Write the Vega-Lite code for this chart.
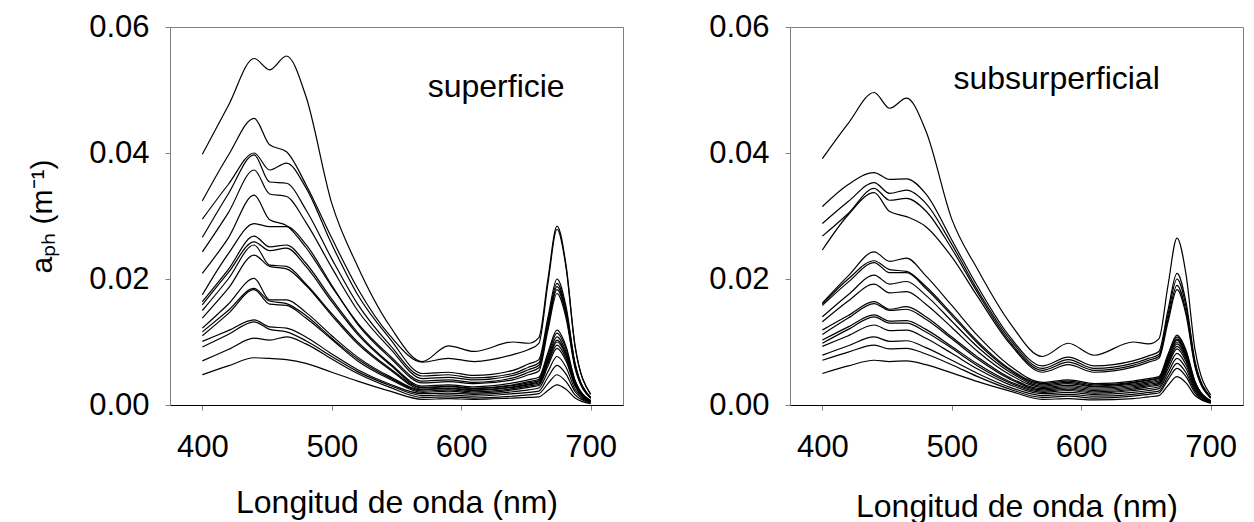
{
"$schema":"https://vega.github.io/schema/vega-lite/v6.json",
"background":"white",
"padding":{"left":26,"top":10,"right":0,"bottom":0},
"spacing":167,
"bounds":"flush",
"config":{
"font":"Liberation Sans",
"view":{"stroke":"#808080","strokeWidth":1},
"axis":{"grid":false,"labelFont":"Liberation Sans","titleFont":"Liberation Sans","labelFontSize":31,"titleFontSize":32,"labelColor":"black","titleColor":"black","titleFontWeight":"normal","tickSize":5,"tickColor":"#808080","domainColor":"#808080","labelFlush":false,"labelOverlap":false},
"axisX":{"domainColor":"black","labelPadding":22,"titleBaseline":"alphabetic"},
"axisY":{"labelPadding":16,"titleFontSize":30}
},
"datasets":{
"sup":[
{"c":1,"w":400,"a":0.0398},{"c":1,"w":420,"a":0.0475},{"c":1,"w":440,"a":0.0550},{"c":1,"w":452,"a":0.0532},{"c":1,"w":465,"a":0.0554},{"c":1,"w":480,"a":0.0490},{"c":1,"w":500,"a":0.0320},{"c":1,"w":520,"a":0.0220},{"c":1,"w":545,"a":0.0125},{"c":1,"w":570,"a":0.0069},{"c":1,"w":590,"a":0.0094},{"c":1,"w":610,"a":0.0085},{"c":1,"w":640,"a":0.0100},{"c":1,"w":652,"a":0.0098},{"c":1,"w":660,"a":0.0107},{"c":1,"w":667,"a":0.0200},{"c":1,"w":674,"a":0.0284},{"c":1,"w":681,"a":0.0222},{"c":1,"w":688,"a":0.0094},{"c":1,"w":700,"a":0.0017},
{"c":2,"w":400,"a":0.0324},{"c":2,"w":420,"a":0.0396},{"c":2,"w":440,"a":0.0455},{"c":2,"w":452,"a":0.0413},{"c":2,"w":465,"a":0.0402},{"c":2,"w":480,"a":0.0350},{"c":2,"w":500,"a":0.0265},{"c":2,"w":520,"a":0.0185},{"c":2,"w":545,"a":0.0110},{"c":2,"w":570,"a":0.0068},{"c":2,"w":590,"a":0.0074},{"c":2,"w":610,"a":0.0069},{"c":2,"w":640,"a":0.0080},{"c":2,"w":652,"a":0.0088},{"c":2,"w":660,"a":0.0098},{"c":2,"w":667,"a":0.0193},{"c":2,"w":674,"a":0.0279},{"c":2,"w":681,"a":0.0218},{"c":2,"w":688,"a":0.0092},{"c":2,"w":700,"a":0.0017},
{"c":3,"w":400,"a":0.0295},{"c":3,"w":420,"a":0.0350},{"c":3,"w":440,"a":0.0400},{"c":3,"w":452,"a":0.0373},{"c":3,"w":465,"a":0.0384},{"c":3,"w":480,"a":0.0345},{"c":3,"w":500,"a":0.0255},{"c":3,"w":520,"a":0.0175},{"c":3,"w":545,"a":0.0105},{"c":3,"w":570,"a":0.0050},{"c":3,"w":590,"a":0.0052},{"c":3,"w":610,"a":0.0047},{"c":3,"w":640,"a":0.0055},{"c":3,"w":652,"a":0.0065},{"c":3,"w":660,"a":0.0072},{"c":3,"w":667,"a":0.0139},{"c":3,"w":674,"a":0.0200},{"c":3,"w":681,"a":0.0156},{"c":3,"w":688,"a":0.0066},{"c":3,"w":700,"a":0.0012},
{"c":4,"w":400,"a":0.0266},{"c":4,"w":420,"a":0.0335},{"c":4,"w":440,"a":0.0397},{"c":4,"w":452,"a":0.0354},{"c":4,"w":465,"a":0.0352},{"c":4,"w":480,"a":0.0310},{"c":4,"w":500,"a":0.0232},{"c":4,"w":520,"a":0.0160},{"c":4,"w":545,"a":0.0095},{"c":4,"w":570,"a":0.0046},{"c":4,"w":590,"a":0.0048},{"c":4,"w":610,"a":0.0043},{"c":4,"w":640,"a":0.0050},{"c":4,"w":652,"a":0.0060},{"c":4,"w":660,"a":0.0067},{"c":4,"w":667,"a":0.0133},{"c":4,"w":674,"a":0.0193},{"c":4,"w":681,"a":0.0151},{"c":4,"w":688,"a":0.0064},{"c":4,"w":700,"a":0.0012},
{"c":5,"w":400,"a":0.0243},{"c":5,"w":420,"a":0.0305},{"c":5,"w":440,"a":0.0373},{"c":5,"w":452,"a":0.0335},{"c":5,"w":465,"a":0.0331},{"c":5,"w":480,"a":0.0290},{"c":5,"w":500,"a":0.0218},{"c":5,"w":520,"a":0.0150},{"c":5,"w":545,"a":0.0090},{"c":5,"w":570,"a":0.0042},{"c":5,"w":590,"a":0.0044},{"c":5,"w":610,"a":0.0040},{"c":5,"w":640,"a":0.0047},{"c":5,"w":652,"a":0.0056},{"c":5,"w":660,"a":0.0063},{"c":5,"w":667,"a":0.0129},{"c":5,"w":674,"a":0.0188},{"c":5,"w":681,"a":0.0147},{"c":5,"w":688,"a":0.0062},{"c":5,"w":700,"a":0.0011},
{"c":6,"w":400,"a":0.0209},{"c":6,"w":420,"a":0.0265},{"c":6,"w":440,"a":0.0333},{"c":6,"w":452,"a":0.0294},{"c":6,"w":465,"a":0.0285},{"c":6,"w":480,"a":0.0250},{"c":6,"w":500,"a":0.0188},{"c":6,"w":520,"a":0.0130},{"c":6,"w":545,"a":0.0078},{"c":6,"w":570,"a":0.0038},{"c":6,"w":590,"a":0.0040},{"c":6,"w":610,"a":0.0036},{"c":6,"w":640,"a":0.0043},{"c":6,"w":652,"a":0.0052},{"c":6,"w":660,"a":0.0059},{"c":6,"w":667,"a":0.0124},{"c":6,"w":674,"a":0.0183},{"c":6,"w":681,"a":0.0143},{"c":6,"w":688,"a":0.0060},{"c":6,"w":700,"a":0.0011},
{"c":7,"w":400,"a":0.0175},{"c":7,"w":420,"a":0.0240},{"c":7,"w":440,"a":0.0288},{"c":7,"w":452,"a":0.0283},{"c":7,"w":465,"a":0.0283},{"c":7,"w":480,"a":0.0255},{"c":7,"w":500,"a":0.0190},{"c":7,"w":520,"a":0.0128},{"c":7,"w":545,"a":0.0075},{"c":7,"w":570,"a":0.0035},{"c":7,"w":590,"a":0.0037},{"c":7,"w":610,"a":0.0034},{"c":7,"w":640,"a":0.0040},{"c":7,"w":652,"a":0.0048},{"c":7,"w":660,"a":0.0054},{"c":7,"w":667,"a":0.0119},{"c":7,"w":674,"a":0.0177},{"c":7,"w":681,"a":0.0138},{"c":7,"w":688,"a":0.0058},{"c":7,"w":700,"a":0.0011},
{"c":8,"w":400,"a":0.0164},{"c":8,"w":420,"a":0.0215},{"c":8,"w":440,"a":0.0268},{"c":8,"w":452,"a":0.0251},{"c":8,"w":465,"a":0.0254},{"c":8,"w":480,"a":0.0225},{"c":8,"w":500,"a":0.0168},{"c":8,"w":520,"a":0.0115},{"c":8,"w":545,"a":0.0066},{"c":8,"w":570,"a":0.0030},{"c":8,"w":590,"a":0.0032},{"c":8,"w":610,"a":0.0029},{"c":8,"w":640,"a":0.0035},{"c":8,"w":652,"a":0.0040},{"c":8,"w":660,"a":0.0044},{"c":8,"w":667,"a":0.0083},{"c":8,"w":674,"a":0.0119},{"c":8,"w":681,"a":0.0093},{"c":8,"w":688,"a":0.0039},{"c":8,"w":700,"a":0.0007},
{"c":9,"w":400,"a":0.0159},{"c":9,"w":420,"a":0.0210},{"c":9,"w":440,"a":0.0259},{"c":9,"w":452,"a":0.0245},{"c":9,"w":465,"a":0.0249},{"c":9,"w":480,"a":0.0220},{"c":9,"w":500,"a":0.0164},{"c":9,"w":520,"a":0.0112},{"c":9,"w":545,"a":0.0064},{"c":9,"w":570,"a":0.0028},{"c":9,"w":590,"a":0.0030},{"c":9,"w":610,"a":0.0027},{"c":9,"w":640,"a":0.0032},{"c":9,"w":652,"a":0.0037},{"c":9,"w":660,"a":0.0041},{"c":9,"w":667,"a":0.0079},{"c":9,"w":674,"a":0.0114},{"c":9,"w":681,"a":0.0089},{"c":9,"w":688,"a":0.0038},{"c":9,"w":700,"a":0.0007},
{"c":10,"w":400,"a":0.0150},{"c":10,"w":420,"a":0.0200},{"c":10,"w":440,"a":0.0254},{"c":10,"w":452,"a":0.0222},{"c":10,"w":465,"a":0.0220},{"c":10,"w":480,"a":0.0192},{"c":10,"w":500,"a":0.0145},{"c":10,"w":520,"a":0.0100},{"c":10,"w":545,"a":0.0058},{"c":10,"w":570,"a":0.0027},{"c":10,"w":590,"a":0.0029},{"c":10,"w":610,"a":0.0026},{"c":10,"w":640,"a":0.0031},{"c":10,"w":652,"a":0.0035},{"c":10,"w":660,"a":0.0039},{"c":10,"w":667,"a":0.0075},{"c":10,"w":674,"a":0.0108},{"c":10,"w":681,"a":0.0084},{"c":10,"w":688,"a":0.0036},{"c":10,"w":700,"a":0.0006},
{"c":11,"w":400,"a":0.0138},{"c":11,"w":420,"a":0.0185},{"c":11,"w":440,"a":0.0238},{"c":11,"w":452,"a":0.0220},{"c":11,"w":465,"a":0.0216},{"c":11,"w":480,"a":0.0190},{"c":11,"w":500,"a":0.0142},{"c":11,"w":520,"a":0.0097},{"c":11,"w":545,"a":0.0056},{"c":11,"w":570,"a":0.0025},{"c":11,"w":590,"a":0.0027},{"c":11,"w":610,"a":0.0024},{"c":11,"w":640,"a":0.0029},{"c":11,"w":652,"a":0.0033},{"c":11,"w":660,"a":0.0037},{"c":11,"w":667,"a":0.0072},{"c":11,"w":674,"a":0.0103},{"c":11,"w":681,"a":0.0080},{"c":11,"w":688,"a":0.0034},{"c":11,"w":700,"a":0.0006},
{"c":12,"w":400,"a":0.0122},{"c":12,"w":420,"a":0.0160},{"c":12,"w":440,"a":0.0201},{"c":12,"w":452,"a":0.0167},{"c":12,"w":465,"a":0.0167},{"c":12,"w":480,"a":0.0147},{"c":12,"w":500,"a":0.0110},{"c":12,"w":520,"a":0.0076},{"c":12,"w":545,"a":0.0045},{"c":12,"w":570,"a":0.0024},{"c":12,"w":590,"a":0.0026},{"c":12,"w":610,"a":0.0023},{"c":12,"w":640,"a":0.0028},{"c":12,"w":652,"a":0.0032},{"c":12,"w":660,"a":0.0035},{"c":12,"w":667,"a":0.0069},{"c":12,"w":674,"a":0.0100},{"c":12,"w":681,"a":0.0078},{"c":12,"w":688,"a":0.0033},{"c":12,"w":700,"a":0.0006},
{"c":13,"w":400,"a":0.0116},{"c":13,"w":420,"a":0.0150},{"c":13,"w":440,"a":0.0185},{"c":13,"w":452,"a":0.0165},{"c":13,"w":465,"a":0.0161},{"c":13,"w":480,"a":0.0142},{"c":13,"w":500,"a":0.0106},{"c":13,"w":520,"a":0.0073},{"c":13,"w":545,"a":0.0043},{"c":13,"w":570,"a":0.0022},{"c":13,"w":590,"a":0.0024},{"c":13,"w":610,"a":0.0021},{"c":13,"w":640,"a":0.0026},{"c":13,"w":652,"a":0.0030},{"c":13,"w":660,"a":0.0033},{"c":13,"w":667,"a":0.0066},{"c":13,"w":674,"a":0.0095},{"c":13,"w":681,"a":0.0074},{"c":13,"w":688,"a":0.0031},{"c":13,"w":700,"a":0.0006},
{"c":14,"w":400,"a":0.0110},{"c":14,"w":420,"a":0.0145},{"c":14,"w":440,"a":0.0183},{"c":14,"w":452,"a":0.0160},{"c":14,"w":465,"a":0.0158},{"c":14,"w":480,"a":0.0138},{"c":14,"w":500,"a":0.0104},{"c":14,"w":520,"a":0.0070},{"c":14,"w":545,"a":0.0041},{"c":14,"w":570,"a":0.0020},{"c":14,"w":590,"a":0.0022},{"c":14,"w":610,"a":0.0019},{"c":14,"w":640,"a":0.0024},{"c":14,"w":652,"a":0.0028},{"c":14,"w":660,"a":0.0031},{"c":14,"w":667,"a":0.0062},{"c":14,"w":674,"a":0.0090},{"c":14,"w":681,"a":0.0070},{"c":14,"w":688,"a":0.0030},{"c":14,"w":700,"a":0.0005},
{"c":15,"w":400,"a":0.0101},{"c":15,"w":420,"a":0.0118},{"c":15,"w":440,"a":0.0135},{"c":15,"w":452,"a":0.0124},{"c":15,"w":465,"a":0.0122},{"c":15,"w":480,"a":0.0108},{"c":15,"w":500,"a":0.0081},{"c":15,"w":520,"a":0.0056},{"c":15,"w":545,"a":0.0033},{"c":15,"w":570,"a":0.0018},{"c":15,"w":590,"a":0.0019},{"c":15,"w":610,"a":0.0017},{"c":15,"w":640,"a":0.0021},{"c":15,"w":652,"a":0.0024},{"c":15,"w":660,"a":0.0027},{"c":15,"w":667,"a":0.0053},{"c":15,"w":674,"a":0.0077},{"c":15,"w":681,"a":0.0060},{"c":15,"w":688,"a":0.0025},{"c":15,"w":700,"a":0.0005},
{"c":16,"w":400,"a":0.0092},{"c":16,"w":420,"a":0.0112},{"c":16,"w":440,"a":0.0132},{"c":16,"w":452,"a":0.0120},{"c":16,"w":465,"a":0.0116},{"c":16,"w":480,"a":0.0102},{"c":16,"w":500,"a":0.0077},{"c":16,"w":520,"a":0.0053},{"c":16,"w":545,"a":0.0031},{"c":16,"w":570,"a":0.0015},{"c":16,"w":590,"a":0.0016},{"c":16,"w":610,"a":0.0014},{"c":16,"w":640,"a":0.0018},{"c":16,"w":652,"a":0.0020},{"c":16,"w":660,"a":0.0022},{"c":16,"w":667,"a":0.0044},{"c":16,"w":674,"a":0.0063},{"c":16,"w":681,"a":0.0049},{"c":16,"w":688,"a":0.0021},{"c":16,"w":700,"a":0.0004},
{"c":17,"w":400,"a":0.0070},{"c":17,"w":420,"a":0.0088},{"c":17,"w":440,"a":0.0106},{"c":17,"w":452,"a":0.0103},{"c":17,"w":465,"a":0.0108},{"c":17,"w":480,"a":0.0097},{"c":17,"w":500,"a":0.0073},{"c":17,"w":520,"a":0.0050},{"c":17,"w":545,"a":0.0028},{"c":17,"w":570,"a":0.0012},{"c":17,"w":590,"a":0.0013},{"c":17,"w":610,"a":0.0011},{"c":17,"w":640,"a":0.0014},{"c":17,"w":652,"a":0.0016},{"c":17,"w":660,"a":0.0018},{"c":17,"w":667,"a":0.0034},{"c":17,"w":674,"a":0.0048},{"c":17,"w":681,"a":0.0037},{"c":17,"w":688,"a":0.0016},{"c":17,"w":700,"a":0.0003},
{"c":18,"w":400,"a":0.0048},{"c":18,"w":420,"a":0.0062},{"c":18,"w":440,"a":0.0075},{"c":18,"w":452,"a":0.0074},{"c":18,"w":465,"a":0.0072},{"c":18,"w":480,"a":0.0066},{"c":18,"w":500,"a":0.0052},{"c":18,"w":520,"a":0.0038},{"c":18,"w":545,"a":0.0022},{"c":18,"w":570,"a":0.0009},{"c":18,"w":590,"a":0.0010},{"c":18,"w":610,"a":0.0009},{"c":18,"w":640,"a":0.0011},{"c":18,"w":652,"a":0.0012},{"c":18,"w":660,"a":0.0013},{"c":18,"w":667,"a":0.0023},{"c":18,"w":674,"a":0.0032},{"c":18,"w":681,"a":0.0025},{"c":18,"w":688,"a":0.0011},{"c":18,"w":700,"a":0.0002}
],
"sub":[
{"c":1,"w":400,"a":0.0391},{"c":1,"w":420,"a":0.0447},{"c":1,"w":440,"a":0.0496},{"c":1,"w":452,"a":0.0471},{"c":1,"w":465,"a":0.0487},{"c":1,"w":480,"a":0.0435},{"c":1,"w":500,"a":0.0295},{"c":1,"w":520,"a":0.0215},{"c":1,"w":545,"a":0.0130},{"c":1,"w":570,"a":0.0077},{"c":1,"w":590,"a":0.0098},{"c":1,"w":610,"a":0.0079},{"c":1,"w":640,"a":0.0100},{"c":1,"w":652,"a":0.0097},{"c":1,"w":660,"a":0.0105},{"c":1,"w":667,"a":0.0189},{"c":1,"w":674,"a":0.0265},{"c":1,"w":681,"a":0.0207},{"c":1,"w":688,"a":0.0087},{"c":1,"w":700,"a":0.0016},
{"c":2,"w":400,"a":0.0315},{"c":2,"w":420,"a":0.0350},{"c":2,"w":440,"a":0.0369},{"c":2,"w":452,"a":0.0358},{"c":2,"w":465,"a":0.0359},{"c":2,"w":480,"a":0.0335},{"c":2,"w":500,"a":0.0262},{"c":2,"w":520,"a":0.0188},{"c":2,"w":545,"a":0.0108},{"c":2,"w":570,"a":0.0062},{"c":2,"w":590,"a":0.0076},{"c":2,"w":610,"a":0.0062},{"c":2,"w":640,"a":0.0070},{"c":2,"w":652,"a":0.0078},{"c":2,"w":660,"a":0.0085},{"c":2,"w":667,"a":0.0150},{"c":2,"w":674,"a":0.0209},{"c":2,"w":681,"a":0.0163},{"c":2,"w":688,"a":0.0069},{"c":2,"w":700,"a":0.0013},
{"c":3,"w":400,"a":0.0288},{"c":3,"w":420,"a":0.0323},{"c":3,"w":440,"a":0.0353},{"c":3,"w":452,"a":0.0336},{"c":3,"w":465,"a":0.0341},{"c":3,"w":480,"a":0.0320},{"c":3,"w":500,"a":0.0255},{"c":3,"w":520,"a":0.0182},{"c":3,"w":545,"a":0.0104},{"c":3,"w":570,"a":0.0058},{"c":3,"w":590,"a":0.0072},{"c":3,"w":610,"a":0.0058},{"c":3,"w":640,"a":0.0066},{"c":3,"w":652,"a":0.0074},{"c":3,"w":660,"a":0.0080},{"c":3,"w":667,"a":0.0143},{"c":3,"w":674,"a":0.0200},{"c":3,"w":681,"a":0.0156},{"c":3,"w":688,"a":0.0066},{"c":3,"w":700,"a":0.0012},
{"c":4,"w":400,"a":0.0268},{"c":4,"w":420,"a":0.0304},{"c":4,"w":440,"a":0.0344},{"c":4,"w":452,"a":0.0325},{"c":4,"w":465,"a":0.0328},{"c":4,"w":480,"a":0.0308},{"c":4,"w":500,"a":0.0248},{"c":4,"w":520,"a":0.0178},{"c":4,"w":545,"a":0.0100},{"c":4,"w":570,"a":0.0055},{"c":4,"w":590,"a":0.0068},{"c":4,"w":610,"a":0.0055},{"c":4,"w":640,"a":0.0063},{"c":4,"w":652,"a":0.0071},{"c":4,"w":660,"a":0.0077},{"c":4,"w":667,"a":0.0136},{"c":4,"w":674,"a":0.0190},{"c":4,"w":681,"a":0.0148},{"c":4,"w":688,"a":0.0063},{"c":4,"w":700,"a":0.0011},
{"c":5,"w":400,"a":0.0246},{"c":5,"w":420,"a":0.0302},{"c":5,"w":440,"a":0.0337},{"c":5,"w":452,"a":0.0307},{"c":5,"w":465,"a":0.0299},{"c":5,"w":480,"a":0.0283},{"c":5,"w":500,"a":0.0235},{"c":5,"w":520,"a":0.0172},{"c":5,"w":545,"a":0.0097},{"c":5,"w":570,"a":0.0052},{"c":5,"w":590,"a":0.0064},{"c":5,"w":610,"a":0.0052},{"c":5,"w":640,"a":0.0060},{"c":5,"w":652,"a":0.0068},{"c":5,"w":660,"a":0.0074},{"c":5,"w":667,"a":0.0131},{"c":5,"w":674,"a":0.0183},{"c":5,"w":681,"a":0.0143},{"c":5,"w":688,"a":0.0060},{"c":5,"w":700,"a":0.0011},
{"c":6,"w":400,"a":0.0162},{"c":6,"w":420,"a":0.0205},{"c":6,"w":440,"a":0.0243},{"c":6,"w":452,"a":0.0228},{"c":6,"w":465,"a":0.0233},{"c":6,"w":480,"a":0.0205},{"c":6,"w":500,"a":0.0158},{"c":6,"w":520,"a":0.0110},{"c":6,"w":545,"a":0.0062},{"c":6,"w":570,"a":0.0036},{"c":6,"w":590,"a":0.0040},{"c":6,"w":610,"a":0.0034},{"c":6,"w":640,"a":0.0038},{"c":6,"w":652,"a":0.0042},{"c":6,"w":660,"a":0.0045},{"c":6,"w":667,"a":0.0080},{"c":6,"w":674,"a":0.0111},{"c":6,"w":681,"a":0.0087},{"c":6,"w":688,"a":0.0037},{"c":6,"w":700,"a":0.0007},
{"c":7,"w":400,"a":0.0160},{"c":7,"w":420,"a":0.0200},{"c":7,"w":440,"a":0.0229},{"c":7,"w":452,"a":0.0215},{"c":7,"w":465,"a":0.0212},{"c":7,"w":480,"a":0.0188},{"c":7,"w":500,"a":0.0145},{"c":7,"w":520,"a":0.0101},{"c":7,"w":545,"a":0.0057},{"c":7,"w":570,"a":0.0034},{"c":7,"w":590,"a":0.0038},{"c":7,"w":610,"a":0.0032},{"c":7,"w":640,"a":0.0036},{"c":7,"w":652,"a":0.0040},{"c":7,"w":660,"a":0.0043},{"c":7,"w":667,"a":0.0077},{"c":7,"w":674,"a":0.0108},{"c":7,"w":681,"a":0.0084},{"c":7,"w":688,"a":0.0036},{"c":7,"w":700,"a":0.0006},
{"c":8,"w":400,"a":0.0158},{"c":8,"w":420,"a":0.0195},{"c":8,"w":440,"a":0.0226},{"c":8,"w":452,"a":0.0210},{"c":8,"w":465,"a":0.0210},{"c":8,"w":480,"a":0.0185},{"c":8,"w":500,"a":0.0142},{"c":8,"w":520,"a":0.0098},{"c":8,"w":545,"a":0.0055},{"c":8,"w":570,"a":0.0032},{"c":8,"w":590,"a":0.0036},{"c":8,"w":610,"a":0.0030},{"c":8,"w":640,"a":0.0035},{"c":8,"w":652,"a":0.0039},{"c":8,"w":660,"a":0.0042},{"c":8,"w":667,"a":0.0075},{"c":8,"w":674,"a":0.0105},{"c":8,"w":681,"a":0.0082},{"c":8,"w":688,"a":0.0035},{"c":8,"w":700,"a":0.0006},
{"c":9,"w":400,"a":0.0140},{"c":9,"w":420,"a":0.0175},{"c":9,"w":440,"a":0.0206},{"c":9,"w":452,"a":0.0192},{"c":9,"w":465,"a":0.0196},{"c":9,"w":480,"a":0.0174},{"c":9,"w":500,"a":0.0133},{"c":9,"w":520,"a":0.0092},{"c":9,"w":545,"a":0.0052},{"c":9,"w":570,"a":0.0030},{"c":9,"w":590,"a":0.0034},{"c":9,"w":610,"a":0.0029},{"c":9,"w":640,"a":0.0033},{"c":9,"w":652,"a":0.0037},{"c":9,"w":660,"a":0.0040},{"c":9,"w":667,"a":0.0073},{"c":9,"w":674,"a":0.0103},{"c":9,"w":681,"a":0.0080},{"c":9,"w":688,"a":0.0034},{"c":9,"w":700,"a":0.0006},
{"c":10,"w":400,"a":0.0132},{"c":10,"w":420,"a":0.0165},{"c":10,"w":440,"a":0.0192},{"c":10,"w":452,"a":0.0178},{"c":10,"w":465,"a":0.0180},{"c":10,"w":480,"a":0.0160},{"c":10,"w":500,"a":0.0123},{"c":10,"w":520,"a":0.0085},{"c":10,"w":545,"a":0.0048},{"c":10,"w":570,"a":0.0028},{"c":10,"w":590,"a":0.0031},{"c":10,"w":610,"a":0.0027},{"c":10,"w":640,"a":0.0031},{"c":10,"w":652,"a":0.0035},{"c":10,"w":660,"a":0.0038},{"c":10,"w":667,"a":0.0071},{"c":10,"w":674,"a":0.0100},{"c":10,"w":681,"a":0.0078},{"c":10,"w":688,"a":0.0033},{"c":10,"w":700,"a":0.0006},
{"c":11,"w":400,"a":0.0119},{"c":11,"w":420,"a":0.0142},{"c":11,"w":440,"a":0.0164},{"c":11,"w":452,"a":0.0152},{"c":11,"w":465,"a":0.0156},{"c":11,"w":480,"a":0.0140},{"c":11,"w":500,"a":0.0108},{"c":11,"w":520,"a":0.0076},{"c":11,"w":545,"a":0.0043},{"c":11,"w":570,"a":0.0026},{"c":11,"w":590,"a":0.0029},{"c":11,"w":610,"a":0.0025},{"c":11,"w":640,"a":0.0029},{"c":11,"w":652,"a":0.0033},{"c":11,"w":660,"a":0.0036},{"c":11,"w":667,"a":0.0068},{"c":11,"w":674,"a":0.0097},{"c":11,"w":681,"a":0.0076},{"c":11,"w":688,"a":0.0032},{"c":11,"w":700,"a":0.0006},
{"c":12,"w":400,"a":0.0112},{"c":12,"w":420,"a":0.0138},{"c":12,"w":440,"a":0.0161},{"c":12,"w":452,"a":0.0150},{"c":12,"w":465,"a":0.0152},{"c":12,"w":480,"a":0.0136},{"c":12,"w":500,"a":0.0105},{"c":12,"w":520,"a":0.0073},{"c":12,"w":545,"a":0.0041},{"c":12,"w":570,"a":0.0024},{"c":12,"w":590,"a":0.0027},{"c":12,"w":610,"a":0.0023},{"c":12,"w":640,"a":0.0027},{"c":12,"w":652,"a":0.0031},{"c":12,"w":660,"a":0.0034},{"c":12,"w":667,"a":0.0065},{"c":12,"w":674,"a":0.0093},{"c":12,"w":681,"a":0.0073},{"c":12,"w":688,"a":0.0031},{"c":12,"w":700,"a":0.0006},
{"c":13,"w":400,"a":0.0103},{"c":13,"w":420,"a":0.0124},{"c":13,"w":440,"a":0.0143},{"c":13,"w":452,"a":0.0133},{"c":13,"w":465,"a":0.0134},{"c":13,"w":480,"a":0.0120},{"c":13,"w":500,"a":0.0093},{"c":13,"w":520,"a":0.0065},{"c":13,"w":545,"a":0.0037},{"c":13,"w":570,"a":0.0022},{"c":13,"w":590,"a":0.0025},{"c":13,"w":610,"a":0.0021},{"c":13,"w":640,"a":0.0025},{"c":13,"w":652,"a":0.0029},{"c":13,"w":660,"a":0.0032},{"c":13,"w":667,"a":0.0062},{"c":13,"w":674,"a":0.0089},{"c":13,"w":681,"a":0.0069},{"c":13,"w":688,"a":0.0029},{"c":13,"w":700,"a":0.0005},
{"c":14,"w":400,"a":0.0098},{"c":14,"w":420,"a":0.0120},{"c":14,"w":440,"a":0.0140},{"c":14,"w":452,"a":0.0130},{"c":14,"w":465,"a":0.0130},{"c":14,"w":480,"a":0.0116},{"c":14,"w":500,"a":0.0090},{"c":14,"w":520,"a":0.0062},{"c":14,"w":545,"a":0.0035},{"c":14,"w":570,"a":0.0020},{"c":14,"w":590,"a":0.0023},{"c":14,"w":610,"a":0.0019},{"c":14,"w":640,"a":0.0023},{"c":14,"w":652,"a":0.0026},{"c":14,"w":660,"a":0.0029},{"c":14,"w":667,"a":0.0057},{"c":14,"w":674,"a":0.0082},{"c":14,"w":681,"a":0.0064},{"c":14,"w":688,"a":0.0027},{"c":14,"w":700,"a":0.0005},
{"c":15,"w":400,"a":0.0093},{"c":15,"w":420,"a":0.0110},{"c":15,"w":440,"a":0.0127},{"c":15,"w":452,"a":0.0118},{"c":15,"w":465,"a":0.0119},{"c":15,"w":480,"a":0.0106},{"c":15,"w":500,"a":0.0082},{"c":15,"w":520,"a":0.0057},{"c":15,"w":545,"a":0.0032},{"c":15,"w":570,"a":0.0018},{"c":15,"w":590,"a":0.0020},{"c":15,"w":610,"a":0.0017},{"c":15,"w":640,"a":0.0020},{"c":15,"w":652,"a":0.0023},{"c":15,"w":660,"a":0.0026},{"c":15,"w":667,"a":0.0051},{"c":15,"w":674,"a":0.0074},{"c":15,"w":681,"a":0.0058},{"c":15,"w":688,"a":0.0024},{"c":15,"w":700,"a":0.0004},
{"c":16,"w":400,"a":0.0079},{"c":16,"w":420,"a":0.0094},{"c":16,"w":440,"a":0.0108},{"c":16,"w":452,"a":0.0101},{"c":16,"w":465,"a":0.0102},{"c":16,"w":480,"a":0.0091},{"c":16,"w":500,"a":0.0071},{"c":16,"w":520,"a":0.0050},{"c":16,"w":545,"a":0.0028},{"c":16,"w":570,"a":0.0015},{"c":16,"w":590,"a":0.0017},{"c":16,"w":610,"a":0.0014},{"c":16,"w":640,"a":0.0017},{"c":16,"w":652,"a":0.0020},{"c":16,"w":660,"a":0.0022},{"c":16,"w":667,"a":0.0045},{"c":16,"w":674,"a":0.0066},{"c":16,"w":681,"a":0.0051},{"c":16,"w":688,"a":0.0022},{"c":16,"w":700,"a":0.0004},
{"c":17,"w":400,"a":0.0071},{"c":17,"w":420,"a":0.0084},{"c":17,"w":440,"a":0.0095},{"c":17,"w":452,"a":0.0089},{"c":17,"w":465,"a":0.0090},{"c":17,"w":480,"a":0.0081},{"c":17,"w":500,"a":0.0064},{"c":17,"w":520,"a":0.0045},{"c":17,"w":545,"a":0.0025},{"c":17,"w":570,"a":0.0012},{"c":17,"w":590,"a":0.0014},{"c":17,"w":610,"a":0.0011},{"c":17,"w":640,"a":0.0014},{"c":17,"w":652,"a":0.0017},{"c":17,"w":660,"a":0.0019},{"c":17,"w":667,"a":0.0040},{"c":17,"w":674,"a":0.0058},{"c":17,"w":681,"a":0.0045},{"c":17,"w":688,"a":0.0019},{"c":17,"w":700,"a":0.0003},
{"c":18,"w":400,"a":0.0050},{"c":18,"w":420,"a":0.0062},{"c":18,"w":440,"a":0.0071},{"c":18,"w":452,"a":0.0069},{"c":18,"w":465,"a":0.0070},{"c":18,"w":480,"a":0.0064},{"c":18,"w":500,"a":0.0051},{"c":18,"w":520,"a":0.0037},{"c":18,"w":545,"a":0.0022},{"c":18,"w":570,"a":0.0009},{"c":18,"w":590,"a":0.0010},{"c":18,"w":610,"a":0.0008},{"c":18,"w":640,"a":0.0010},{"c":18,"w":652,"a":0.0013},{"c":18,"w":660,"a":0.0015},{"c":18,"w":667,"a":0.0031},{"c":18,"w":674,"a":0.0045},{"c":18,"w":681,"a":0.0035},{"c":18,"w":688,"a":0.0015},{"c":18,"w":700,"a":0.0003}
]
},
"hconcat":[
{
"width":453,"height":378,
"layer":[
{"data":{"name":"sup"},
"mark":{"type":"line","color":"black","strokeWidth":1.2,"interpolate":"monotone"},
"encoding":{
"x":{"field":"w","type":"quantitative","scale":{"domain":[375,725],"nice":false,"zero":false},"axis":{"values":[400,500,600,700],"title":"Longitud de onda (nm)","titleY":107}},
"y":{"field":"a","type":"quantitative","scale":{"domain":[0,0.06],"nice":false},"axis":{"values":[0,0.02,0.04,0.06],"format":".2f","title":"aₚₕ (m⁻¹)","titleX":-128,"titleBaseline":"middle"}},
"detail":{"field":"c","type":"nominal"}
}},
{"data":{"values":[{"t":"superficie"}]},
"mark":{"type":"text","fontSize":32,"font":"Liberation Sans","align":"center","baseline":"alphabetic","color":"black"},
"encoding":{"x":{"datum":627},"y":{"datum":0.0489},"text":{"field":"t"}}}
]
},
{
"width":453,"height":378,
"layer":[
{"data":{"name":"sub"},
"mark":{"type":"line","color":"black","strokeWidth":1.2,"interpolate":"monotone"},
"encoding":{
"x":{"field":"w","type":"quantitative","scale":{"domain":[375,725],"nice":false,"zero":false},"axis":{"values":[400,500,600,700],"title":"Longitud de onda (nm)","titleY":111}},
"y":{"field":"a","type":"quantitative","scale":{"domain":[0,0.06],"nice":false},"axis":{"values":[0,0.02,0.04,0.06],"format":".2f","title":null}},
"detail":{"field":"c","type":"nominal"}
}},
{"data":{"values":[{"t":"subsurperficial"}]},
"mark":{"type":"text","fontSize":32,"font":"Liberation Sans","align":"center","baseline":"alphabetic","color":"black"},
"encoding":{"x":{"datum":581},"y":{"datum":0.0502},"text":{"field":"t"}}}
]
}
]
}
